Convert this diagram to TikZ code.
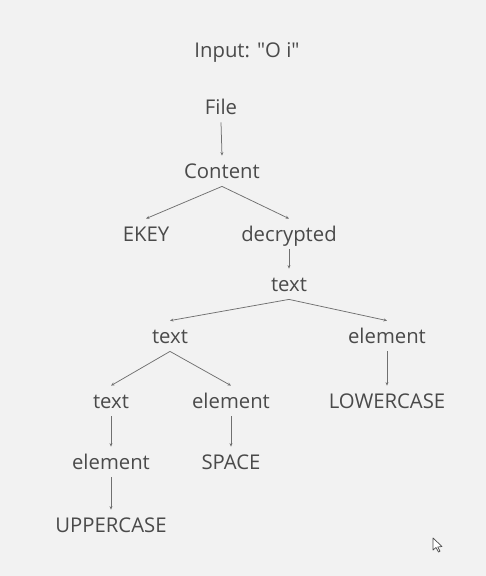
\documentclass[tikz,border=0pt]{standalone}
\usepackage{fontspec}
\setmainfont{Open Sans}
\newfontfamily\plainfont{Open Sans}
\usetikzlibrary{arrows.meta}
\definecolor{bggray}{HTML}{F2F2F2}
\definecolor{txtgray}{HTML}{4A4A4A}
\definecolor{linegray}{HTML}{707070}
\begin{document}
\begin{tikzpicture}[x=1pt,y=-1pt,
  lbl/.style={font=\plainfont\fontsize{20.3}{23}\selectfont, text=txtgray, inner xsep=0pt, inner ysep=8pt, text height=14.4pt, text depth=0pt, anchor=center},
  conn/.style={draw=linegray, line width=0.75pt, -{Stealth[length=3.5pt,width=3pt]}}]
\fill[bggray] (0,0) rectangle (486,576);
\useasboundingbox (0,0) rectangle (486,576);
\node[lbl] (inp) at (247,50) {Input: "O i"};
\node[lbl] (file) at (221,107) {File};
\node[lbl] (content) at (222,171) {Content};
\node[lbl] (ekey) at (146,234) {EKEY};
\node[lbl] (decr) at (289,234) {decrypted};
\node[lbl] (txta) at (289,284) {text};
\node[lbl] (txtb) at (170,336) {text};
\node[lbl] (elr) at (387,336) {element};
\node[lbl] (txtc) at (111,401) {text};
\node[lbl] (elm) at (231,401) {element};
\node[lbl] (lower) at (387,401) {LOWERCASE};
\node[lbl] (ell) at (111,462) {element};
\node[lbl] (space) at (231,462) {SPACE};
\node[lbl] (upper) at (111,525) {UPPERCASE};
\draw[conn] (file.south) -- (content.north);
\draw[conn] (content.south) -- (ekey.north);
\draw[conn] (content.south) -- (decr.north);
\draw[conn] (decr.south) -- (txta.north);
\draw[conn] (txta.south) -- (txtb.north);
\draw[conn] (txta.south) -- (elr.north);
\draw[conn] (elr.south) -- (lower.north);
\draw[conn] (txtb.south) -- (txtc.north);
\draw[conn] (txtb.south) -- (elm.north);
\draw[conn] (txtc.south) -- (ell.north);
\draw[conn] (elm.south) -- (space.north);
\draw[conn] (ell.south) -- (upper.north);
% mouse pointer
\draw[draw=txtgray, line width=0.7pt, fill=white, line join=round] (433,538) -- (433,550) -- (436,547.5) -- (438.5,552) -- (440,551.2) -- (437.8,547) -- (442,546.5) -- cycle;
\end{tikzpicture}
\end{document}
